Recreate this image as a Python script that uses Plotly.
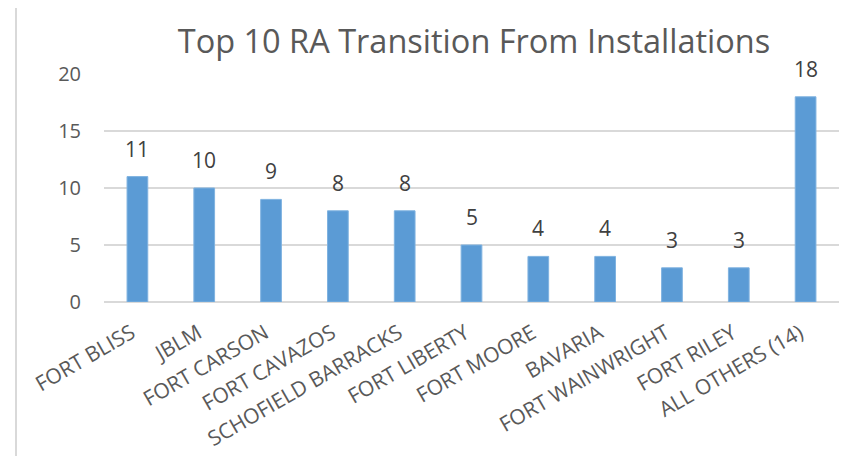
import plotly.graph_objects as go

categories = ["FORT BLISS", "JBLM", "FORT CARSON", "FORT CAVAZOS", "SCHOFIELD BARRACKS",
              "FORT LIBERTY", "FORT MOORE", "BAVARIA", "FORT WAINWRIGHT", "FORT RILEY",
              "ALL OTHERS (14)"]
values = [11, 10, 9, 8, 8, 5, 4, 4, 3, 3, 18]
y_ticks = [0, 5, 10, 15, 20]
title_text = "Top 10 RA Transition From Installations"

FONT = "Open Sans"
# page body has an 8px default margin; figure sized to fill the remaining window
W, H = 846, 448
ML, MR, MT, MB = 96, 15, 66, 154
PW, PH = W - ML - MR, H - MT - MB

def px_x(x):  # window x -> paper fraction
    return (x - 8 - ML) / PW

def px_y(y):  # window y -> paper fraction
    return 1 - (y - 8 - MT) / PH

fig = go.Figure(go.Bar(
    x=categories, y=values,
    marker=dict(color="#5B9BD5", line=dict(color="#7FB2E0", width=1)),
    width=0.31,
    cliponaxis=False,
))

annotations = [
    dict(x=c, y=v, xref="x", yref="y", text=str(v), showarrow=False,
         xanchor="center", yanchor="bottom", yshift=12,
         font=dict(family=FONT, size=21, color="#404040"))
    for c, v in zip(categories, values)
]

border = dict(color="#D9D9D9", width=2)
fig.update_layout(
    width=W, height=H,
    margin=dict(l=ML, r=MR, t=MT, b=MB),
    paper_bgcolor="white", plot_bgcolor="white",
    showlegend=False,
    annotations=annotations,
    title=dict(text=title_text, x=(474 - 8) / W, xanchor="center", y=1 - (42 - 8) / H,
               yanchor="middle", font=dict(family=FONT, size=32.5, color="#595959")),
    xaxis=dict(tickangle=-30, tickfont=dict(family=FONT, size=21, color="#595959"),
               showline=False, showgrid=False, ticks="", automargin=False,
               ticklabelstandoff=14, ticklabelshift=-6),
    yaxis=dict(range=[0, 20], tickvals=y_ticks, showgrid=True, gridcolor="#D9D9D9", gridwidth=1.5,
               tickfont=dict(family=FONT, size=20, color="#595959"), zeroline=True,
               zerolinecolor="#D9D9D9", zerolinewidth=1.5, ticklabelstandoff=22,
               automargin=False),
    shapes=[
        dict(type="line", xref="paper", yref="paper", x0=px_x(16), x1=px_x(16),
             y0=px_y(6), y1=px_y(470), line=border),
        dict(type="line", xref="paper", yref="paper", x0=px_x(16), x1=px_x(852),
             y0=px_y(6), y1=px_y(6), line=border),
        dict(type="line", xref="paper", yref="paper", x0=px_x(852), x1=px_x(852),
             y0=px_y(6), y1=px_y(470), line=border),
    ],
)

fig.write_html("out.html")
